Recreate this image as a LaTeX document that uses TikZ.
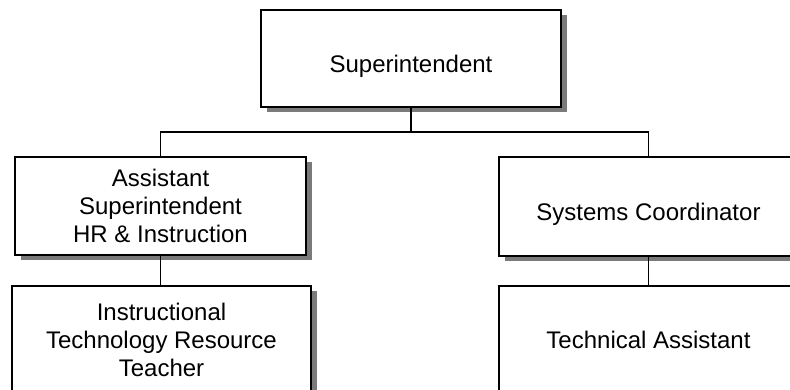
\documentclass[tikz,border=0pt]{standalone}
\usepackage{fontspec}
\setmainfont{Liberation Sans}
\usetikzlibrary{shadows}
\begin{document}
\begin{tikzpicture}[x=1pt,y=-1pt,
  orgbox/.style={draw=black,line width=1.7pt,fill=white,align=center,
    inner sep=0pt,outer sep=0pt,
    font=\fontsize{24}{28}\selectfont,
    drop shadow={shadow xshift=6pt,shadow yshift=-5pt,fill=black!52,opacity=1}},
  lowtext/.style={text height=28pt,text depth=0pt},
  link/.style={line width=1.7pt,draw=black}]
\useasboundingbox (0,0) rectangle (790,389);
\clip (0,0) rectangle (790,389);
% boxes
\node[orgbox,lowtext,minimum width=300pt,minimum height=97pt] (sup) at (411,58.5) {Superintendent};
\node[orgbox,minimum width=291pt,minimum height=98pt] (asst) at (160.5,206) {Assistant\\Superintendent\\HR \& Instruction};
\node[orgbox,lowtext,minimum width=299pt,minimum height=99pt] (sys) at (648.5,206.5) {Systems Coordinator};
\node[orgbox,minimum width=299pt,minimum height=108pt] (itrt) at (161.5,340) {Instructional\\Technology Resource\\Teacher};
\node[orgbox,minimum width=299pt,minimum height=108pt] (tech) at (648.5,340) {Technical Assistant};
% connectors
\coordinate (bus) at (411,132);
\draw[link] (sup.south) -- (bus);
\draw[link] (bus) -| (asst.north);
\draw[link] (bus) -| (sys.north);
\draw[link] (asst.south) -- (itrt.north -| asst.south);
\draw[link] (sys.south) -- (tech.north);
\end{tikzpicture}
\end{document}
